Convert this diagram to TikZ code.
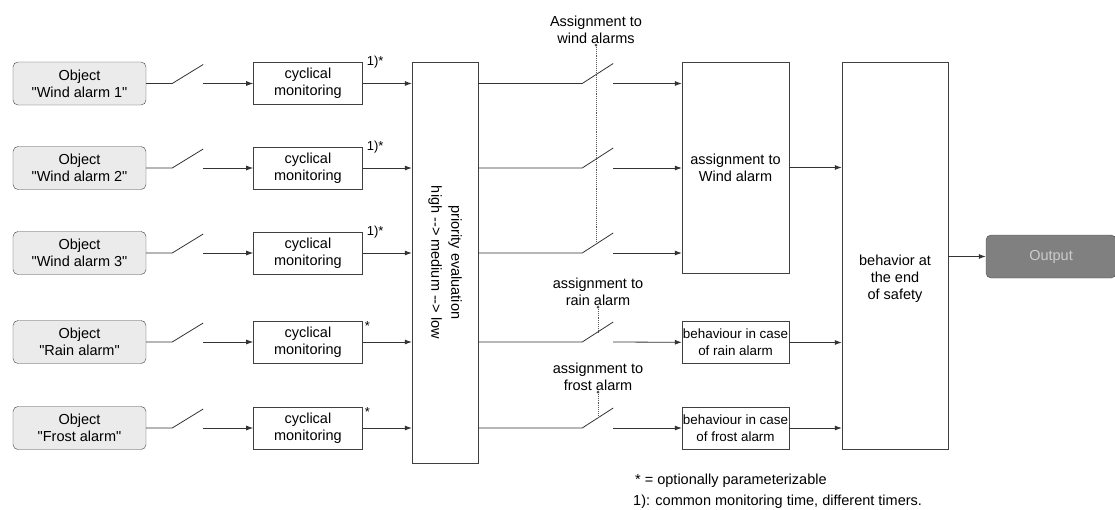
\documentclass[tikz,border=0pt]{standalone}
\usepackage{fontspec}
\setmainfont{Liberation Sans}[Ligatures=TeXOff]
\usetikzlibrary{arrows.meta,positioning,calc}

\begin{document}
\begin{tikzpicture}[x=1pt, y=-1pt,
  font=\fontsize{14.5}{17}\selectfont,
  objbox/.style={draw=black!75, rounded corners=5pt, fill=black!8, align=center,
                 minimum width=133pt, minimum height=43pt, inner sep=1pt},
  monbox/.style={draw=black!75, align=center, minimum width=109pt,
                 minimum height=42pt, inner sep=1pt},
  tallbox/.style={draw=black!75, align=center, inner sep=0pt},
  wire/.style={draw=black!80, line width=0.8pt},
  arr/.style={wire, -{Latex[length=7pt,width=5pt]}},
  sel/.style={draw=black!65, densely dotted, line width=0.9pt},
  note/.style={font=\fontsize{13}{15}\selectfont, inner sep=1pt}]

  \useasboundingbox (0,0) rectangle (1115,509);

  % inputs
  \node[objbox] (obj1) at (79.5,83.5) {Object\\"Wind alarm 1"};
  \node[objbox] (obj2) at (79.5,168)  {Object\\"Wind alarm 2"};
  \node[objbox] (obj3) at (79.5,253)  {Object\\"Wind alarm 3"};
  \node[objbox] (obj4) at (79.5,342)  {Object\\"Rain alarm"};
  \node[objbox] (obj5) at (79.5,428)  {Object\\"Frost alarm"};

  \node[monbox, right=107pt of obj1] (mon1) {cyclical\\monitoring};
  \node[monbox, right=107pt of obj2] (mon2) {cyclical\\monitoring};
  \node[monbox, right=107pt of obj3] (mon3) {cyclical\\monitoring};
  \node[monbox, right=107pt of obj4] (mon4) {cyclical\\monitoring};
  \node[monbox, right=107pt of obj5] (mon5) {cyclical\\monitoring};

  \node[note, anchor=west, xshift=3pt] at (mon1.north east) {1)*};
  \node[note, anchor=west, xshift=3pt] at (mon2.north east) {1)*};
  \node[note, anchor=west, xshift=3pt] at (mon3.north east) {1)*};
  \node[note, anchor=north west, xshift=1pt] at (mon4.north east) {*};
  \node[note, anchor=north west, xshift=1pt] at (mon5.north east) {*};

  \node[tallbox, minimum width=66pt, minimum height=401pt] (prio) at (445,262.5) {};
  \node[rotate=-90, align=center] (priotxt) at (prio.center)
       {priority evaluation\\[3pt]high --> medium --> low};

  % open switches on the input side
  \draw[wire] (obj1.east) -- ++(26,0) coordinate (sw1) -- ++(31,-19);
  \draw[wire] (obj2.east) -- ++(26,0) coordinate (sw2) -- ++(31,-19);
  \draw[wire] (obj3.east) -- ++(26,0) coordinate (sw3) -- ++(31,-19);
  \draw[wire] (obj4.east) -- ++(26,0) coordinate (sw4) -- ++(31,-19);
  \draw[wire] (obj5.east) -- ++(26,0) coordinate (sw5) -- ++(31,-19);
  \draw[arr] (sw1) ++(31,0) -- (mon1);
  \draw[arr] (sw2) ++(31,0) -- (mon2);
  \draw[arr] (sw3) ++(31,0) -- (mon3);
  \draw[arr] (sw4) ++(31,0) -- (mon4);
  \draw[arr] (sw5) ++(31,0) -- (mon5);

  \draw[arr] (mon1) -- (mon1 -| prio.west);
  \draw[arr] (mon2) -- (mon2 -| prio.west);
  \draw[arr] (mon3) -- (mon3 -| prio.west);
  \draw[arr] (mon4) -- (mon4 -| prio.west);
  \draw[arr] (mon5) -- (mon5 -| prio.west);

  % assignment stage
  \node[tallbox, minimum width=107pt, minimum height=211pt] (wind) at (735.5,167.5)
       {assignment to\\Wind alarm};
  \node[monbox, minimum width=107pt, font=\fontsize{13.4}{17}\selectfont] (rain)
       at (735.5,342.5) {behaviour in case\\of rain alarm};
  \node[monbox, minimum width=107pt, font=\fontsize{13.4}{17}\selectfont] (frost)
       at (735.5,428) {behaviour in case\\of frost alarm};

  \draw[wire] (prio.east |- obj1) -- ++(104,0) coordinate (rs1) -- ++(31,-20);
  \draw[wire] (prio.east |- obj2) -- ++(104,0) coordinate (rs2) -- ++(31,-20);
  \draw[wire] (prio.east |- obj3) -- ++(104,0) coordinate (rs3) -- ++(31,-20);
  \draw[wire] (prio.east |- obj4) -- ++(104,0) coordinate (rs4) -- ++(31,-20);
  \draw[wire] (prio.east |- obj5) -- ++(104,0) coordinate (rs5) -- ++(31,-20);
  \draw[arr] (rs1) ++(31,0) -- (wind.west |- rs1);
  \draw[arr] (rs2) ++(31,0) -- (wind.west |- rs2);
  \draw[arr] (rs3) ++(31,0) -- (wind.west |- rs3);
  \draw[arr] (rs4) ++(31,0) -- (rain);
  \draw[arr] (rs5) ++(31,0) -- (frost);

  \node[align=center, inner sep=1pt] (windlbl)  at (596,30)  {Assignment to\\wind alarms};
  \node[align=center, inner sep=1pt] (rainlbl)  at (598,292) {assignment to\\rain alarm};
  \node[align=center, inner sep=1pt] (frostlbl) at (598,377) {assignment to\\frost alarm};

  % dotted actuators, dot at the top
  \draw[sel] (windlbl.south)  -- ($(windlbl.south |- rs3)+(0,-10)$);
  \draw[sel] (rainlbl.south)  -- ($(rainlbl.south |- rs4)+(0,-10)$);
  \draw[sel] (frostlbl.south) -- ($(frostlbl.south |- rs5)+(0,-10)$);
  \fill[black!70] (windlbl.south)  circle (1.5);
  \fill[black!70] (rainlbl.south)  circle (1.5);
  \fill[black!70] (frostlbl.south) circle (1.5);

  % end of safety and output
  \node[tallbox, minimum width=106pt, minimum height=387pt] (safety) at (895,255.5) {};
  \node[align=center] (safetytxt) at ([yshift=-23pt]safety.center)
       {behavior at\\the end\\of safety};
  \node[draw=black!70, rounded corners=5pt, fill=black!50, text=black!20,
        minimum width=130pt, minimum height=43pt] (out) at (1051,256.5) {Output};

  \draw[arr] (wind)  -- (wind -| safety.west);
  \draw[arr] (rain)  -- (rain -| safety.west);
  \draw[arr] (frost) -- (frost -| safety.west);
  \draw[arr] (safety.east |- out) -- (out);

  \node[anchor=west, inner sep=0pt] (note1) at (635,481) {* = optionally parameterizable};
  \node[anchor=west, inner sep=0pt] (note2) at (633,502) {1): common monitoring time, different timers.};
\end{tikzpicture}
\end{document}
